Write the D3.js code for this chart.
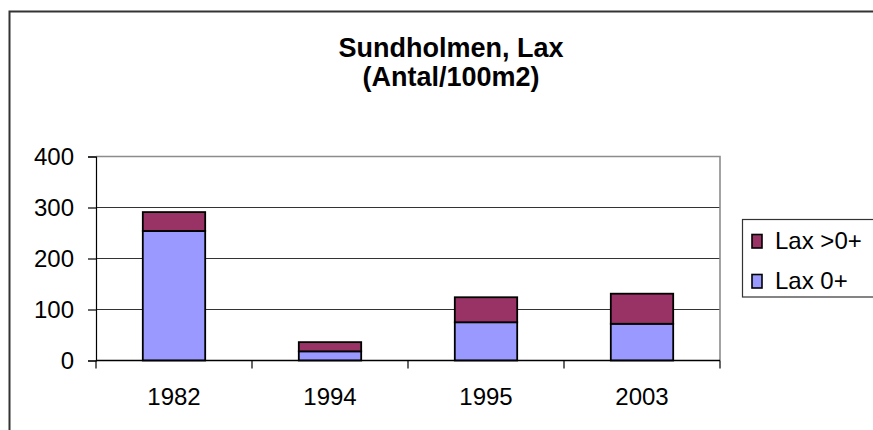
<!DOCTYPE html>
<html><head><meta charset="utf-8">
<script src="https://cdn.jsdelivr.net/npm/d3@7"></script>
<style>
html,body{margin:0;padding:0;background:#fff;overflow:hidden;}
svg{display:block;font-family:"Liberation Sans",Arial,sans-serif;}
</style></head>
<body>
<svg id="c" width="873" height="430"></svg>
<script>
const categories = ["1982", "1994", "1995", "2003"];
const lax0 = [254, 18, 75, 72];
const laxOver0 = [37, 18, 49, 59];
const seriesNames = ["Lax 0+", "Lax >0+"];
const seriesColors = ["#9999FF", "#993366"];
const yTicks = [0, 100, 200, 300, 400];
const titleLines = ["Sundholmen, Lax", "(Antal/100m2)"];

const svg = d3.select("#c");
const plot = {left: 96, right: 720, top: 156.5, bottom: 360.5};

// outer chart border
svg.append("rect").attr("x", 9.5).attr("y", 11.5).attr("width", 900).attr("height", 460)
  .attr("fill", "#fff").attr("stroke", "#333").attr("stroke-width", 2);

// title
const title = svg.append("text").attr("text-anchor", "middle")
  .attr("font-weight", "bold").attr("font-size", 27).attr("fill", "#000");
titleLines.forEach((t, i) => {
  title.append("tspan").attr("x", 451).attr("y", 57 + i * 28.5).text(t);
});

const x = d3.scaleBand().domain(categories).range([plot.left, plot.right])
  .paddingInner(0.6).paddingOuter(0.3);
const y = d3.scaleLinear().domain([0, 400]).range([plot.bottom, plot.top]);

// gridlines
svg.append("g").selectAll("line").data(yTicks.filter(d => d > 0 && d < 400)).join("line")
  .attr("x1", plot.left).attr("x2", plot.right)
  .attr("y1", d => y(d)).attr("y2", d => y(d))
  .attr("stroke", "#333").attr("stroke-width", 1.2);

// plot border (top + right)
svg.append("path")
  .attr("d", `M${plot.left},${y(400)}H${plot.right}V${plot.bottom}`)
  .attr("fill", "none").attr("stroke", "#8c8c8c").attr("stroke-width", 1.6);

// stacked data
const data = categories.map((c, i) => ({cat: c, s0: lax0[i], s1: laxOver0[i]}));
const stack = d3.stack().keys(["s0", "s1"])(data);

svg.append("g").selectAll("g").data(stack).join("g")
  .attr("fill", (d, i) => seriesColors[i])
  .selectAll("rect").data(d => d).join("rect")
  .attr("x", d => x(d.data.cat))
  .attr("width", x.bandwidth())
  .attr("y", d => y(d[1]))
  .attr("height", d => y(d[0]) - y(d[1]))
  .attr("stroke", "#000").attr("stroke-width", 1.8);

// y axis
const yAxis = d3.axisLeft(y).tickValues(yTicks).tickSize(8).tickPadding(14).tickFormat(d3.format("d"));
const gy = svg.append("g").attr("transform", `translate(${plot.left},0)`).call(yAxis);
gy.select(".domain").attr("stroke", "#000").attr("stroke-width", 1.2);
gy.selectAll(".tick line").attr("stroke", "#000").attr("stroke-width", 1.2);
gy.selectAll("text").attr("font-size", 24).attr("font-family", "Liberation Sans, Arial, sans-serif").attr("fill", "#000");

// x axis
const gx = svg.append("g").attr("transform", `translate(0,${plot.bottom})`);
gx.append("line").attr("x1", plot.left).attr("x2", plot.right).attr("y1", 0).attr("y2", 0)
  .attr("stroke", "#000").attr("stroke-width", 1.6);
const boundaries = categories.map((c, i) => plot.left + i * x.step());
boundaries.push(plot.right);
gx.selectAll("line.tk").data(boundaries).join("line").attr("class", "tk")
  .attr("x1", d => d).attr("x2", d => d).attr("y1", 0).attr("y2", 8)
  .attr("stroke", "#000").attr("stroke-width", 1.2);
gx.selectAll("text").data(categories).join("text")
  .attr("x", d => x(d) + x.bandwidth() / 2).attr("y", 44)
  .attr("text-anchor", "middle").attr("font-size", 24).attr("fill", "#000").text(d => d);

// legend
const lg = svg.append("g");
lg.append("rect").attr("x", 742.5).attr("y", 219.5).attr("width", 160).attr("height", 77.5)
  .attr("fill", "#fff").attr("stroke", "#333").attr("stroke-width", 1.2);
const legendOrder = [1, 0];
legendOrder.forEach((si, k) => {
  const yy = 234.5 + k * 40;
  lg.append("rect").attr("x", 752).attr("y", yy).attr("width", 10).attr("height", 13.5)
    .attr("fill", seriesColors[si]).attr("stroke", "#000").attr("stroke-width", 1.6);
  lg.append("text").attr("x", 775).attr("y", yy + 14).attr("font-size", 24)
    .attr("fill", "#000").text(seriesNames[si]);
});
</script>
</body></html>
